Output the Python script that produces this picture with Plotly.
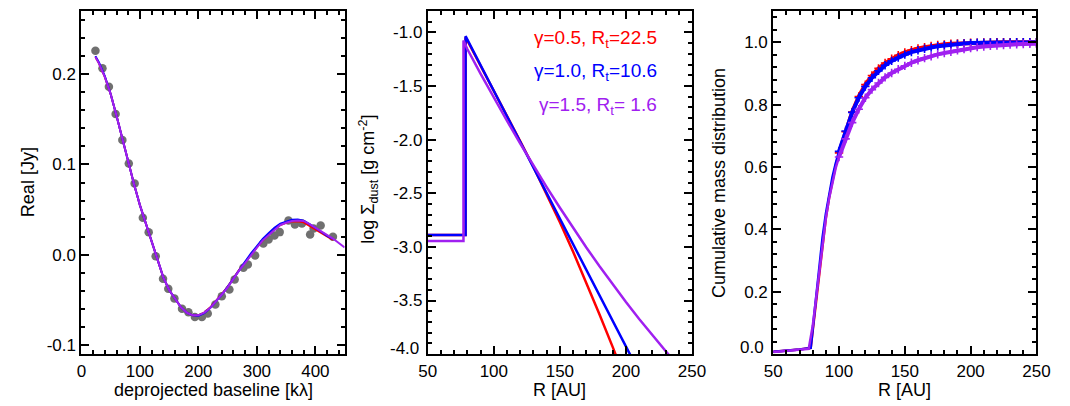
import plotly.graph_objects as go

# ---------------- data ----------------
# Panel 1: visibility data (gray dots)
vis_u = [24, 36, 47, 58.5, 70, 81, 91, 105, 115, 127, 139.5, 148.5, 159, 172, 183, 194,
         206, 216, 229, 240, 253, 262, 277, 284.5, 297, 311, 320, 330, 339, 354, 365,
         377, 391, 397, 409, 430]
vis_re = [0.226, 0.2066, 0.186, 0.156, 0.127, 0.101, 0.079, 0.041, 0.025, -0.0015, -0.0266,
          -0.0377, -0.0484, -0.0598, -0.0635, -0.069, -0.069, -0.065, -0.055, -0.0458, -0.0384,
          -0.0273, -0.0144, -0.0107, -0.0007, 0.0126, 0.017, 0.0214, 0.0251, 0.038, 0.0336,
          0.0347, 0.0225, 0.029, 0.0325, 0.020]

# Panel 1: model curves
mod_u = [24, 30, 40, 50, 60, 70, 80, 90, 100, 110, 120, 130, 140, 150, 160, 170, 180, 190,
         200, 210, 220, 230, 240, 250, 260, 270, 280, 290, 300, 310, 320, 330, 340, 350,
         360, 370, 380, 390, 400, 410, 420, 430, 440, 450]
mod_purple = [0.219, 0.212, 0.197, 0.178, 0.154, 0.128, 0.103, 0.078, 0.055, 0.035, 0.015,
              -0.004, -0.025, -0.039, -0.049, -0.058, -0.064, -0.067, -0.067, -0.064, -0.059,
              -0.052, -0.044, -0.036, -0.0265, -0.017, -0.009, 0.000, 0.008, 0.016, 0.022,
              0.028, 0.033, 0.0355, 0.0375, 0.038, 0.0375, 0.034, 0.030, 0.026, 0.022, 0.018,
              0.013, 0.008]
mod_blue = [0.220, 0.213, 0.198, 0.178, 0.154, 0.128, 0.103, 0.078, 0.055, 0.035, 0.015,
            -0.004, -0.025, -0.039, -0.049, -0.058, -0.064, -0.067, -0.0675, -0.0645, -0.059,
            -0.052, -0.044, -0.0355, -0.026, -0.016, -0.0075, 0.0015, 0.0095, 0.0175, 0.024,
            0.030, 0.0345, 0.037, 0.0388, 0.039, 0.0378, 0.034, 0.030, 0.0255, 0.021, 0.0175]
mod_red = [0.219, 0.212, 0.197, 0.178, 0.154, 0.128, 0.103, 0.078, 0.055, 0.035, 0.015,
           -0.004, -0.025, -0.039, -0.049, -0.058, -0.064, -0.067, -0.067, -0.064, -0.0585,
           -0.0515, -0.0435, -0.0355, -0.026, -0.0165, -0.0085, 0.0005, 0.0085, 0.016, 0.0225,
           0.028, 0.033, 0.0355, 0.037, 0.037, 0.036, 0.032, 0.028, 0.024, 0.020, 0.0165]

# Panel 2: surface density profiles
sd_r_red = [50, 78.6, 78.6, 90, 100, 110, 120, 130, 140, 150, 160, 170, 180, 190, 194]
sd_red = [-2.89, -2.89, -1.045, -1.31, -1.545, -1.78, -2.015, -2.255, -2.505, -2.77, -3.045,
          -3.33, -3.63, -3.935, -4.06]
sd_r_blue = [50, 78.6, 78.6, 90, 100, 110, 120, 130, 140, 150, 160, 170, 180, 190, 200, 205]
sd_blue = [-2.89, -2.89, -1.035, -1.307, -1.545, -1.783, -2.022, -2.26, -2.498, -2.737, -2.975,
           -3.213, -3.452, -3.69, -3.928, -4.048]
sd_r_purple = [50, 77.0, 77.0, 80, 90, 100, 110, 120, 130, 140, 150, 160, 170, 180, 190, 200,
               210, 220, 230, 234]
sd_purple = [-2.946, -2.946, -1.075, -1.157, -1.386, -1.609, -1.826, -2.037, -2.242, -2.442,
             -2.635, -2.823, -3.005, -3.181, -3.351, -3.515, -3.673, -3.825, -3.971, -4.03]

# Panel 3: cumulative mass distribution
cm_r = [50, 60, 70, 78.5, 80, 82.5, 85, 87.5, 90, 92.5, 95, 97.5, 100, 105, 110, 115, 120,
        125, 130, 135, 140, 145, 150, 155, 160, 165, 170, 175, 180, 185, 190, 195, 200, 205,
        210, 215, 220, 225, 230, 235, 240, 245, 250]
cm_blue = [0.008, 0.011, 0.015, 0.020, 0.080, 0.185, 0.285, 0.375, 0.450, 0.515, 0.568, 0.612,
           0.650, 0.715, 0.775, 0.822, 0.858, 0.886, 0.908, 0.926, 0.940, 0.951, 0.960, 0.968,
           0.974, 0.979, 0.983, 0.987, 0.990, 0.992, 0.994, 0.996, 0.997, 0.998, 0.998, 0.999,
           0.999, 0.999, 0.999, 1.0, 1.0, 1.0, 1.0]
cm_red = [0.008, 0.011, 0.015, 0.020, 0.075, 0.175, 0.272, 0.360, 0.436, 0.502, 0.558, 0.605,
          0.645, 0.713, 0.776, 0.826, 0.864, 0.893, 0.916, 0.933, 0.947, 0.958, 0.967, 0.974,
          0.980, 0.984, 0.988, 0.991, 0.993, 0.995, 0.996, 0.997, 0.998, 0.998, 0.999, 0.999,
          1.0, 1.0, 1.0, 1.0, 1.0, 1.0, 1.0]
cm_r_purple = [50, 60, 70, 77, 80, 82.5, 85, 87.5, 90, 92.5, 95, 97.5, 100, 105, 110, 115, 120,
               125, 130, 135, 140, 145, 150, 155, 160, 165, 170, 175, 180, 185, 190, 195, 200,
               205, 210, 215, 220, 225, 230, 235, 240, 245, 250]
cm_purple = [0.007, 0.010, 0.013, 0.017, 0.090, 0.180, 0.275, 0.360, 0.435, 0.500, 0.552,
             0.597, 0.632, 0.690, 0.742, 0.785, 0.822, 0.848, 0.869, 0.887, 0.901, 0.913, 0.924,
             0.934, 0.942, 0.949, 0.955, 0.961, 0.965, 0.969, 0.974, 0.978, 0.981, 0.984, 0.986,
             0.988, 0.989, 0.991, 0.992, 0.993, 0.994, 0.995, 0.995]

# Tick labels
p1_xticks = [0, 100, 200, 300, 400]
p1_yticks = [-0.1, 0.0, 0.1, 0.2]
p1_ylabels = ["-0.1", "0.0", "0.1", "0.2"]
p2_xticks = [50, 100, 150, 200, 250]
p2_yticks = [-4.0, -3.5, -3.0, -2.5, -2.0, -1.5, -1.0]
p2_ylabels = ["-4.0", "-3.5", "-3.0", "-2.5", "-2.0", "-1.5", "-1.0"]
p3_xticks = [50, 100, 150, 200, 250]
p3_yticks = [0.0, 0.2, 0.4, 0.6, 0.8, 1.0]
p3_ylabels = ["0.0", "0.2", "0.4", "0.6", "0.8", "1.0"]

legend_labels = ["γ=0.5, R<sub>t</sub>=22.5", "γ=1.0, R<sub>t</sub>=10.6", "γ=1.5, R<sub>t</sub>= 1.6"]

# ---------------- styling ----------------
RED = "#FF0000"
BLUE = "#0000FF"
PURPLE = "#A020F0"
GRAY = "#707070"
FONT = "Liberation Sans, Arial, Helvetica, sans-serif"
W, H = 1070, 406
TICKFONT = dict(family=FONT, size=17, color="black")


def px_x(p):
    return p / W


def px_y(p):
    return (H - p) / H


fig = go.Figure()

# Panel 1
fig.add_trace(go.Scatter(x=vis_u, y=vis_re, mode="markers",
                         marker=dict(size=8.5, color=GRAY), xaxis="x", yaxis="y"))
fig.add_trace(go.Scatter(x=mod_u[:len(mod_red)], y=mod_red, mode="lines",
                         line=dict(color=RED, width=2), xaxis="x", yaxis="y"))
fig.add_trace(go.Scatter(x=mod_u[:len(mod_blue)], y=mod_blue, mode="lines",
                         line=dict(color=BLUE, width=2), xaxis="x", yaxis="y"))
fig.add_trace(go.Scatter(x=mod_u, y=mod_purple, mode="lines",
                         line=dict(color=PURPLE, width=2), xaxis="x", yaxis="y"))

# Panel 2
for xs, ys, c in [(sd_r_red, sd_red, RED), (sd_r_blue, sd_blue, BLUE), (sd_r_purple, sd_purple, PURPLE)]:
    fig.add_trace(go.Scatter(x=xs, y=ys, mode="lines", line=dict(color=c, width=2.5),
                             xaxis="x2", yaxis="y2"))

# Panel 3: thin line through the steep rise, thick "+"-marked band beyond ~100 AU
for xs, ys, c in [(cm_r, cm_red, RED), (cm_r, cm_blue, BLUE), (cm_r_purple, cm_purple, PURPLE)]:
    k = xs.index(100)
    fig.add_trace(go.Scatter(x=xs[:k + 1], y=ys[:k + 1], mode="lines",
                             line=dict(color=c, width=2.5), xaxis="x3", yaxis="y3"))
    fig.add_trace(go.Scatter(x=xs[k:], y=ys[k:], mode="lines+markers",
                             line=dict(color=c, width=4),
                             marker=dict(symbol="cross-thin", size=6,
                                         line=dict(color=c, width=1.6)),
                             xaxis="x3", yaxis="y3"))

axis_common = dict(showline=True, linewidth=2, linecolor="black", mirror=True,
                   ticks="inside", ticklen=8, tickwidth=1.5, tickcolor="black",
                   showgrid=False, zeroline=False, tickfont=TICKFONT)


def minor(dt, t0):
    return dict(ticks="inside", ticklen=4, tickwidth=1.5, tickcolor="black",
                dtick=dt, tick0=t0, showgrid=False)


XD = [[px_x(74), px_x(343)], [px_x(428), px_x(698)], [px_x(781), px_x(1050)]]
YD = [px_y(355), px_y(11)]

panels = [
    dict(xr=[0, 450], xt=p1_xticks, xl=[str(v) for v in p1_xticks], xm=20, xm0=0,
         yr=[-0.11, 0.27], yt=p1_yticks, yl=p1_ylabels, ym=0.02, ym0=0),
    dict(xr=[50, 250], xt=p2_xticks, xl=[str(v) for v in p2_xticks], xm=10, xm0=0,
         yr=[-4.0, -0.8], yt=p2_yticks, yl=[""] + p2_ylabels[1:], ym=0.1, ym0=0),
    dict(xr=[50, 250], xt=p3_xticks, xl=[str(v) for v in p3_xticks], xm=10, xm0=0,
         yr=[0.0, 1.1], yt=p3_yticks, yl=[""] + p3_ylabels[1:], ym=0.04, ym0=0),
]

lay = {}
for i, p in enumerate(panels):
    n = i + 1
    s = "" if n == 1 else str(n)
    lay["xaxis" + s] = dict(domain=XD[i], range=p["xr"], anchor="y" + s, tickmode="array",
                            tickvals=p["xt"], ticktext=p["xl"], minor=minor(p["xm"], p["xm0"]),
                            **axis_common)
    lay["yaxis" + s] = dict(domain=YD, range=p["yr"], anchor="x" + s, tickmode="array",
                            tickvals=p["yt"], ticktext=p["yl"], minor=minor(p["ym"], p["ym0"]),
                            **axis_common)
    # mirrored tick axes (top / right)
    m = str(n + 3)
    lay["xaxis" + m] = dict(domain=XD[i], range=p["xr"], overlaying="x" + s, side="top",
                            anchor="y" + s, tickmode="array", tickvals=p["xt"],
                            showticklabels=False, ticks="inside", ticklen=8, tickwidth=1.5,
                            tickcolor="black", showline=False, showgrid=False, zeroline=False,
                            minor=minor(p["xm"], p["xm0"]))
    lay["yaxis" + m] = dict(domain=YD, range=p["yr"], overlaying="y" + s, side="right",
                            anchor="x" + s, tickmode="array", tickvals=p["yt"],
                            showticklabels=False, ticks="inside", ticklen=8, tickwidth=1.5,
                            tickcolor="black", showline=False, showgrid=False, zeroline=False,
                            minor=minor(p["ym"], p["ym0"]))
    fig.add_trace(go.Scatter(x=[], y=[], xaxis="x" + m, yaxis="y" + m, hoverinfo="skip"))

fig.update_layout(width=W, height=H, margin=dict(l=0, r=0, t=0, b=0),
                  paper_bgcolor="white", plot_bgcolor="white", showlegend=False, **lay)

title_font = dict(family=FONT, size=18, color="black")
annos = [
    dict(text="deprojected baseline [kλ]", x=px_x(208.5), y=px_y(391)),
    dict(text="R [AU]", x=px_x(563), y=px_y(391)),
    dict(text="R [AU]", x=px_x(915.5), y=px_y(391)),
    dict(text="Real [Jy]", x=px_x(19), y=px_y(183), textangle=-90),
    dict(text="log Σ<sub>dust</sub> [g cm<sup>-2</sup>]", x=px_x(367), y=px_y(180), textangle=-90),
    dict(text="Cumulative mass distribution", x=px_x(725), y=px_y(183), textangle=-90),
]
for a in annos:
    fig.add_annotation(xref="paper", yref="paper", showarrow=False, xanchor="center",
                       yanchor="middle", font=title_font, **a)

# bottom y tick labels of panels 2 and 3 sit slightly above the frame corner
fig.add_annotation(text=p2_ylabels[0], xref="paper", yref="paper", x=px_x(421), y=px_y(349),
                   xanchor="right", yanchor="middle", showarrow=False, font=TICKFONT)
fig.add_annotation(text=p3_ylabels[0], xref="paper", yref="paper", x=px_x(774), y=px_y(348),
                   xanchor="right", yanchor="middle", showarrow=False, font=TICKFONT)

for lab, c, yp in zip(legend_labels, [RED, BLUE, PURPLE], [39, 72.5, 106]):
    fig.add_annotation(text=lab, xref="paper", yref="paper", x=px_x(664), y=px_y(yp),
                       xanchor="right", yanchor="middle", showarrow=False,
                       font=dict(family=FONT, size=19, color=c))

fig.write_html("out.html",
               config={"displayModeBar": False},
               post_script="document.body.style.margin='0px';"
                           "document.body.style.overflow='hidden';")
